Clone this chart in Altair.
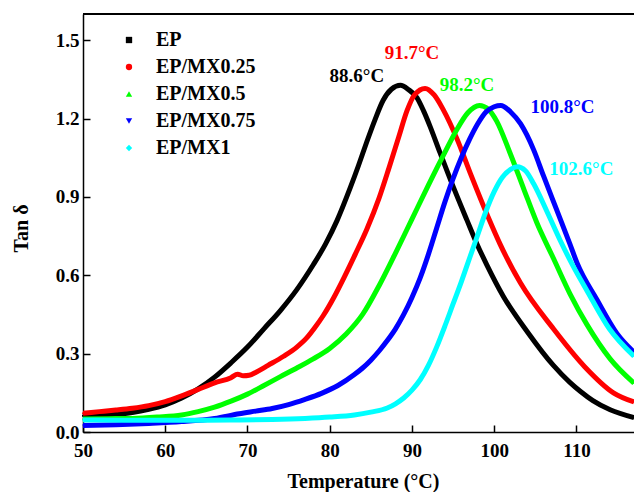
import altair as alt
import pandas as pd

series_names = ["EP", "EP/MX0.25", "EP/MX0.5", "EP/MX0.75", "EP/MX1"]
series_colors = ["#000000", "#ff0000", "#00ff00", "#0000ff", "#00ffff"]
series_shapes = ["square", "circle", "triangle-up", "triangle-down", "diamond"]

ep_x = [50, 52, 54, 56, 58, 60, 62, 64, 66, 68, 70, 72, 74, 76, 78, 79.5, 80.9, 82.5, 83.5, 84.5,
        85.5, 86.5, 87.5, 88.6, 89.6, 90.6, 91.4, 92.2, 93.4, 95, 96.7, 97.9, 99.1, 101.1, 104,
        107.2, 109.2, 110.5, 112, 114.1, 117]
ep_y = [0.062, 0.064, 0.068, 0.075, 0.087, 0.104, 0.130, 0.165, 0.210, 0.265, 0.325, 0.395,
        0.465, 0.545, 0.640, 0.720, 0.810, 0.935, 1.020, 1.110, 1.195, 1.270, 1.312, 1.327,
        1.310, 1.280, 1.230, 1.170, 1.070, 0.940, 0.810, 0.720, 0.640, 0.520, 0.385, 0.255,
        0.190, 0.155, 0.120, 0.085, 0.055]

mx025_x = [50, 52, 54, 56, 58, 60, 62, 64, 66, 68, 68.8, 69.5, 70.2, 71.1, 72.5, 74.4, 76, 77.2,
           78.2, 79.2, 80.5, 81.8, 83.1, 84.5, 86, 87.2, 88.4, 89.4, 90.3, 91.6, 92.7, 93.8, 95.5,
           97.1, 99.3, 100.7, 103.2, 107.2, 111, 114.5, 117]
mx025_y = [0.072, 0.078, 0.084, 0.091, 0.101, 0.116, 0.138, 0.163, 0.188, 0.208, 0.221, 0.215,
           0.217, 0.230, 0.255, 0.290, 0.325, 0.360, 0.400, 0.445, 0.515, 0.595, 0.680, 0.775,
           0.895, 1.010, 1.130, 1.230, 1.290, 1.315, 1.290, 1.234, 1.120, 0.990, 0.820, 0.720,
           0.570, 0.395, 0.250, 0.150, 0.115]

mx05_x = [50, 53, 56, 59, 62, 64, 66, 68, 70, 72, 74, 76, 78, 80, 82, 84, 86, 88, 90, 92, 94,
          95.5, 96.8, 98.2, 99.3, 100.3, 101.9, 103.6, 105.2, 107.2, 109.2, 111.3, 114.1, 117]
mx05_y = [0.050, 0.051, 0.052, 0.057, 0.065, 0.078, 0.095, 0.118, 0.145, 0.178, 0.212, 0.245,
          0.280, 0.320, 0.375, 0.450, 0.560, 0.685, 0.815, 0.945, 1.070, 1.160, 1.222, 1.250,
          1.235, 1.190, 1.070, 0.930, 0.800, 0.665, 0.530, 0.410, 0.280, 0.187]

mx075_x = [50, 54, 58, 62, 66, 69, 71, 73, 75, 77, 79, 81, 83, 84, 85, 86, 87, 88, 89, 90, 91, 92,
           93, 94, 95, 96, 97, 98, 99, 100, 100.8, 102, 103.2, 104.8, 106, 107.6, 109.2, 110.1,
           112.5, 114.9, 117]
mx075_y = [0.025, 0.028, 0.033, 0.040, 0.052, 0.070, 0.080, 0.090, 0.105, 0.125, 0.148, 0.178,
           0.220, 0.245, 0.275, 0.310, 0.350, 0.395, 0.450, 0.515, 0.590, 0.680, 0.780, 0.880,
           0.970, 1.050, 1.120, 1.180, 1.225, 1.245, 1.250, 1.225, 1.180, 1.080, 0.980, 0.850,
           0.720, 0.645, 0.506, 0.378, 0.305]

mx1_x = [50, 55, 60, 65, 69, 73, 77, 80, 83, 85, 87, 88, 89, 90, 91, 92, 93, 94, 95, 96, 97, 98,
         99, 100, 101, 102, 102.8, 103.8, 104.8, 106.4, 108, 109.6, 111.3, 114, 117]
mx1_y = [0.046, 0.045, 0.045, 0.045, 0.046, 0.048, 0.052, 0.057, 0.065, 0.076, 0.092, 0.108,
         0.130, 0.160, 0.200, 0.255, 0.325, 0.405, 0.490, 0.575, 0.665, 0.755, 0.845, 0.920,
         0.975, 1.005, 1.015, 1.000, 0.950, 0.845, 0.735, 0.635, 0.540, 0.395, 0.290]

peak_labels = ["88.6°C", "91.7°C", "98.2°C", "100.8°C", "102.6°C"]
peak_label_x = [83.3, 90.0, 96.7, 108.3, 110.6]
peak_label_y = [1.364, 1.452, 1.329, 1.245, 1.008]

x_ticks = [50, 60, 70, 80, 90, 100, 110]
y_ticks = [0.0, 0.3, 0.6, 0.9, 1.2, 1.5]

xs = [ep_x, mx025_x, mx05_x, mx075_x, mx1_x]
ys = [ep_y, mx025_y, mx05_y, mx075_y, mx1_y]
rows = []
for name, sx, sy in zip(series_names, xs, ys):
    for a, b in zip(sx, sy):
        rows.append({"series": name, "T": a, "tan": b})
df = pd.DataFrame(rows)

lab_df = pd.DataFrame({"series": series_names, "label": peak_labels,
                       "T": peak_label_x, "tan": peak_label_y})

FONT = "Liberation Serif"
color_scale = alt.Scale(domain=series_names, range=series_colors)
shape_scale = alt.Scale(domain=series_names, range=series_shapes)

x_enc = alt.X("T:Q", scale=alt.Scale(domain=[50, 117], nice=False, zero=False),
              axis=alt.Axis(values=x_ticks, format="d", title="Temperature (°C)",
                            titleX=280, titleY=49, titleBaseline="middle",
                            labelPadding=16, labelFlush=False))
y_enc = alt.Y("tan:Q", scale=alt.Scale(domain=[0, 1.6], nice=False, zero=False),
              axis=alt.Axis(values=y_ticks, format=".1f", title="Tan δ",
                            titleX=-62, titleY=214, titleBaseline="middle",
                            labelPadding=11, labelFlush=False))

legend_cfg = alt.Legend(orient="none", legendX=36, legendY=16,
                        symbolOpacity=1, symbolSize=40, symbolStrokeWidth=0,
                        symbolType="circle",
                        labelFont=FONT, labelFontSize=20, labelFontWeight="bold",
                        labelColor="black", labelOffset=17, rowPadding=7, padding=0)

pts = alt.Chart(df).mark_point(filled=True, size=4, opacity=1).encode(
    x=x_enc, y=y_enc,
    color=alt.Color("series:N", scale=color_scale, legend=legend_cfg, title=""),
    shape=alt.Shape("series:N", scale=shape_scale, legend=legend_cfg, title=""),
)

lines = alt.Chart(df).mark_line(strokeWidth=5, interpolate="monotone", clip=True).encode(
    x=x_enc, y=y_enc,
    color=alt.Color("series:N", scale=color_scale, legend=None),
)

labels = alt.Chart(lab_df).mark_text(font=FONT, fontSize=19, fontWeight="bold").encode(
    x=x_enc, y=y_enc, text="label:N",
    color=alt.Color("series:N", scale=color_scale, legend=None),
)

top_rule = alt.Chart(lab_df).mark_rule(color="black", strokeWidth=1.5).encode(
    y=alt.datum(1.6)
)

chart = alt.layer(pts, lines, labels, top_rule).properties(
    width=551, height=418,
    autosize=alt.AutoSizeParams(type="none"),
    padding={"left": 83, "top": 14, "right": 0, "bottom": 60},
).configure_view(stroke=None).configure_axis(
    grid=False, domainColor="black", domainWidth=1.5,
    tickColor="black", tickWidth=1.5, tickSize=alt.ExprRef(expr="-7"),
    labelFont=FONT, labelFontSize=19, labelFontWeight="bold", labelColor="black",
    titleFont=FONT, titleFontSize=20, titleFontWeight="bold", titleColor="black",
)

chart.save("out.html", embed_options={"renderer": "svg", "actions": False})
